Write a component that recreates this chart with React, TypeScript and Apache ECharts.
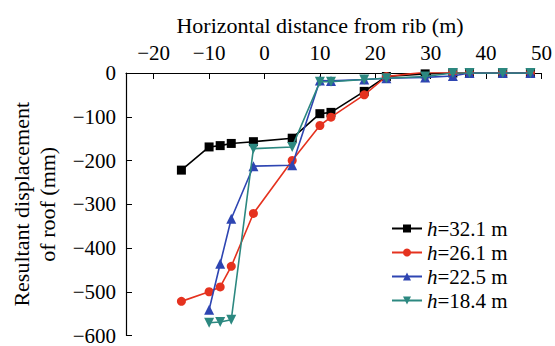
import React, { useEffect, useRef } from "react";
import * as echarts from "echarts";

const seriesNames = ["h=32.1 m", "h=26.1 m", "h=22.5 m", "h=18.4 m"];
const xBlack = [-15, -10, -8, -6, -2, 5, 10, 12, 18, 22, 29, 34, 37, 43, 48];
const yBlack = [-222, -169, -166, -161, -157, -149, -93, -90, -42, -8, -2, 0, 0, 0, 0];
const xRed = [-15, -10, -8, -6, -2, 5, 10, 12, 18, 22, 29, 34, 37, 43, 48];
const yRed = [-522, -500, -489, -442, -321, -200, -120, -101, -50, -8, 2, 0, 0, 0, 0];
const xBlue = [-10, -8, -6, -2, 5, 10, 12, 18, 22, 29, 34, 37, 43, 48];
const yBlue = [-541, -436, -333, -213, -211, -17, -18, -15, -12, -10, -7, 0, 0, 0];
const xTeal = [-10, -8, -6, -2, 5, 10, 12, 18, 22, 29, 34, 37, 43, 48];
const yTeal = [-571, -569, -564, -173, -169, -20, -20, -15, -12, -8, 0, 0, 0, 0];
const xTicks = [-20, -10, 0, 10, 20, 30, 40, 50];

const colors = ["#000000", "#e5321f", "#2e45b2", "#2c8880"];
const symbols = ["rect", "circle", "triangle", "triangle"];
const rotates = [0, 0, 0, 180];
const symSizes = [9, 9, 10, 10];

const FONT = "Liberation Serif";

function pairs(xs: number[], ys: number[]) {
  return xs.map((x, i) => [x, ys[i]]);
}

export default function App() {
  const ref = useRef<HTMLDivElement>(null);
  useEffect(() => {
    if (!ref.current) return;
    const chart = echarts.init(ref.current, null, { renderer: "svg" });
    const datasets = [
      pairs(xBlack, yBlack),
      pairs(xRed, yRed),
      pairs(xBlue, yBlue),
      pairs(xTeal, yTeal),
    ];
    const fmt = (v: number) => String(v).replace("-", "\u2212");
    chart.setOption({
      animation: false,
      backgroundColor: "#ffffff",
      title: {
        text: "Horizontal distance from rib (m)",
        left: 315,
        top: 9,
        textAlign: "center",
        textStyle: { fontFamily: FONT, fontSize: 22, fontWeight: "normal", color: "#000" },
      },
      grid: { left: 124, right: 13, top: 73, bottom: 9, containLabel: false },
      legend: {
        orient: "vertical",
        left: 386,
        top: 213,
        itemWidth: 30,
        itemHeight: 10,
        itemGap: 3,
        data: seriesNames,
        formatter: (name: string) => "{i|h}" + name.slice(1),
        textStyle: {
          fontFamily: FONT,
          fontSize: 21,
          color: "#000",
          lineHeight: 21,
          rich: { i: { fontStyle: "italic", fontFamily: FONT, fontSize: 21, color: "#000" } },
        },
      },
      xAxis: {
        type: "value",
        position: "top",
        min: -25,
        max: 50,
        interval: 5,
        axisLine: { onZero: false, lineStyle: { color: "#000", width: 1.2 } },
        axisTick: {
          inside: true,
          length: 6,
          lineStyle: { color: "#000" },
          customValues: xTicks,
        },
        axisLabel: {
          margin: 10,
          fontFamily: FONT,
          fontSize: 21,
          color: "#000",
          customValues: xTicks,
          formatter: fmt,
        },
        splitLine: { show: false },
      },
      yAxis: {
        type: "value",
        min: -600,
        max: 0,
        interval: 100,
        name: "Resultant displacement\nof roof (mm)",
        nameLocation: "middle",
        nameGap: 66,
        nameRotate: 90,
        nameTextStyle: { fontFamily: FONT, fontSize: 22, color: "#000", lineHeight: 26 },
        axisLine: { onZero: false, lineStyle: { color: "#000", width: 1.2 } },
        axisTick: { inside: true, length: 6, lineStyle: { color: "#000" } },
        axisLabel: {
          margin: 10,
          fontFamily: FONT,
          fontSize: 21,
          color: "#000",
          formatter: fmt,
        },
        splitLine: { show: false },
      },
      series: datasets.map((d, i) => ({
        name: seriesNames[i],
        type: "line",
        data: d,
        color: colors[i],
        symbol: symbols[i],
        symbolRotate: rotates[i],
        symbolSize: symSizes[i],
        showSymbol: true,
        lineStyle: { width: 1.6, color: colors[i] },
        itemStyle: { color: colors[i] },
        z: 2 + i,
      })),
    });
    return () => chart.dispose();
  }, []);
  return (
    <div
      ref={ref}
      style={{ position: "absolute", left: 0, top: 0, width: 555, height: 346 }}
    />
  );
}
